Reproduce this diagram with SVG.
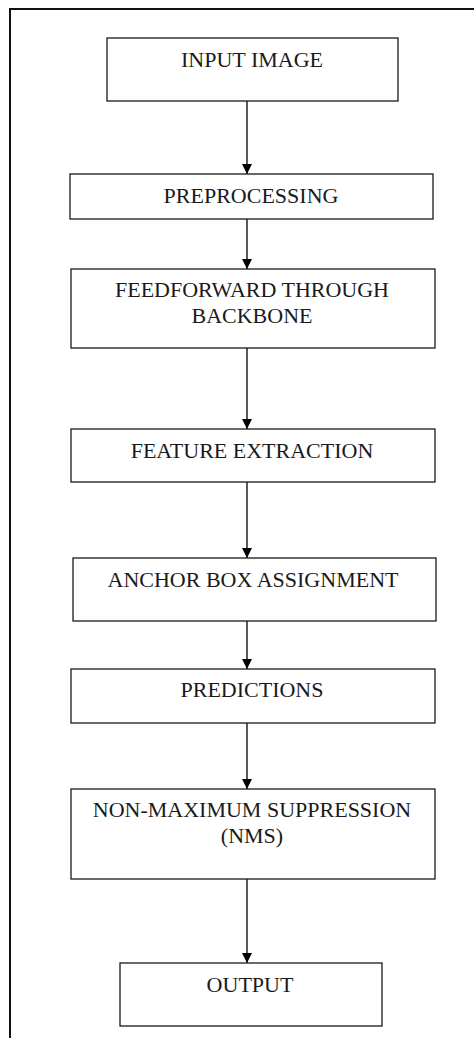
<svg xmlns="http://www.w3.org/2000/svg" width="474" height="1038" viewBox="0 0 474 1038">
<style>
.box{fill:#fff;stroke:#1a1a1a;stroke-width:1.3}
.lbl{font-family:"Liberation Serif","Times New Roman",serif;font-size:22px;fill:#1a1a1a;text-anchor:middle}
.con{stroke:#000;stroke-width:1.3;fill:none;marker-end:url(#ah)}
</style>
<defs>
<marker id="ah" viewBox="0 0 10 10" refX="10" refY="5" markerWidth="10" markerHeight="10" markerUnits="userSpaceOnUse" orient="auto">
<path d="M0,0 L10,5 L0,10 Z" fill="#000"/>
</marker>
</defs>
<rect width="474" height="1038" fill="#fff"/>
<g id="frame">
<path d="M10,1038 V9 H474" fill="none" stroke="#111" stroke-width="2"/>
</g>
<g id="connectors">
<line class="con" x1="247" y1="101" x2="247" y2="174"/>
<line class="con" x1="247" y1="219" x2="247" y2="269"/>
<line class="con" x1="247" y1="348" x2="247" y2="429"/>
<line class="con" x1="247" y1="482" x2="247" y2="558"/>
<line class="con" x1="247" y1="621" x2="247" y2="669"/>
<line class="con" x1="247" y1="723" x2="247" y2="789"/>
<line class="con" x1="247" y1="879" x2="247" y2="963"/>
</g>
<g id="input-image">
<rect class="box" x="107" y="38" width="291" height="63"/>
<text class="lbl" x="252" y="67">INPUT IMAGE</text>
</g>
<g id="preprocessing">
<rect class="box" x="70" y="174" width="363" height="45"/>
<text class="lbl" x="251" y="203">PREPROCESSING</text>
</g>
<g id="feedforward">
<rect class="box" x="71" y="269" width="364" height="79"/>
<text class="lbl" x="252" y="297">FEEDFORWARD THROUGH</text>
<text class="lbl" x="252" y="323">BACKBONE</text>
</g>
<g id="feature-extraction">
<rect class="box" x="71" y="429" width="364" height="53"/>
<text class="lbl" x="252" y="458">FEATURE EXTRACTION</text>
</g>
<g id="anchor-box">
<rect class="box" x="73" y="558" width="363" height="63"/>
<text class="lbl" x="253" y="587">ANCHOR BOX ASSIGNMENT</text>
</g>
<g id="predictions">
<rect class="box" x="71" y="669" width="364" height="54"/>
<text class="lbl" x="252" y="697">PREDICTIONS</text>
</g>
<g id="nms">
<rect class="box" x="71" y="789" width="364" height="90"/>
<text class="lbl" x="252" y="817">NON-MAXIMUM SUPPRESSION</text>
<text class="lbl" x="252" y="843">(NMS)</text>
</g>
<g id="output">
<rect class="box" x="120" y="963" width="262" height="63"/>
<text class="lbl" x="250" y="992">OUTPUT</text>
</g>
</svg>
